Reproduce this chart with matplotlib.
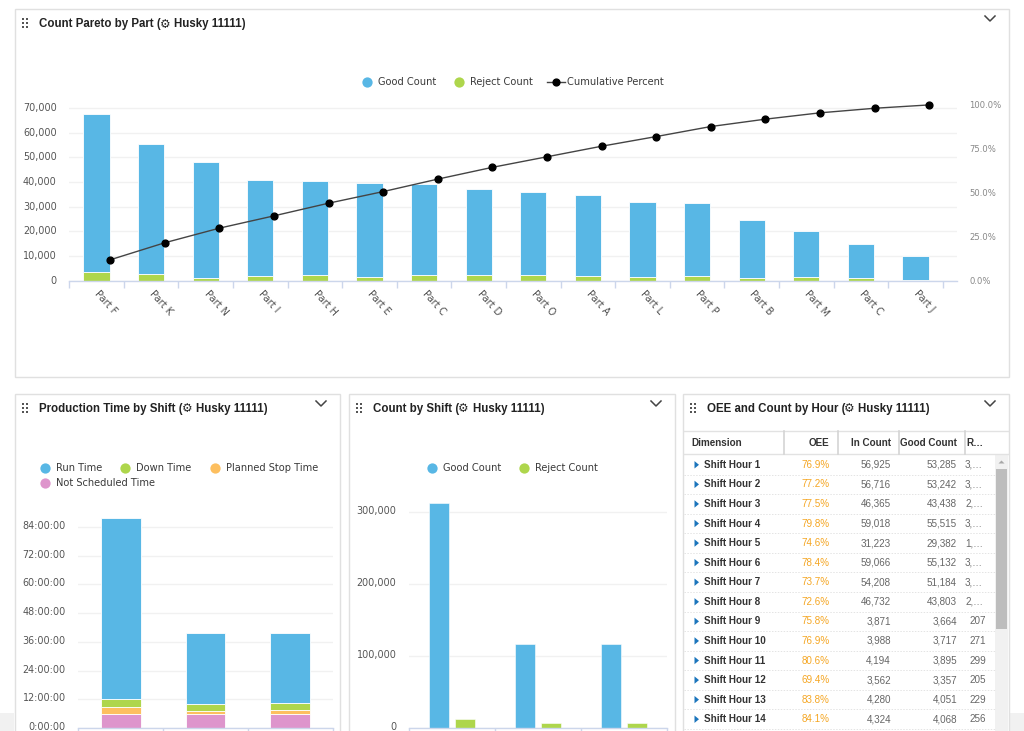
import matplotlib
matplotlib.use("Agg")
import matplotlib.pyplot as plt
from matplotlib.lines import Line2D
from matplotlib.patches import Rectangle, Polygon
from matplotlib.ticker import FuncFormatter
from matplotlib.transforms import ScaledTranslation
import numpy as np

W, H = 1024, 731
BLUE, GREEN, ORANGE, PINK = "#58B7E5", "#AED64C", "#FDBF5F", "#DE95CC"
GRID, AXC = "#f1f1f1", "#ccd6eb"
SANS, ARIAL = "DejaVu Sans", "Liberation Sans"

# ---- data ----
parts = ["Part F", "Part K", "Part N", "Part I", "Part H", "Part E", "Part C", "Part D",
         "Part O", "Part A", "Part L", "Part P", "Part B", "Part M", "Part C", "Part J"]
part_reject = [3500, 2700, 1200, 2000, 2300, 1700, 2300, 2200, 2300, 2000, 1400, 1900, 1000, 1300, 1000, 300]
part_good = [64000, 52800, 46800, 39000, 38200, 38000, 37000, 35100, 33700, 32800, 30600, 29600, 23800, 18700, 14000, 9700]
cum_pct = [11.9, 21.6, 29.9, 36.9, 44.1, 50.7, 57.8, 64.5, 70.5, 76.5, 82.0, 87.7, 91.9, 95.5, 98.1, 100.0]

shift_notsched = [5.85, 5.85, 5.85]
shift_planned = [2.9, 1.2, 1.6]
shift_down = [3.3, 2.9, 2.9]
shift_run = [75.7, 29.8, 29.4]

shift_good = [312900, 116800, 116800]
shift_reject = [12100, 6500, 6500]

hours = [f"Shift Hour {i}" for i in range(1, 15)]
oee = ["76.9%", "77.2%", "77.5%", "79.8%", "74.6%", "78.4%", "73.7%", "72.6%", "75.8%", "76.9%", "80.6%", "69.4%", "83.8%", "84.1%"]
in_count = ["56,925", "56,716", "46,365", "59,018", "31,223", "59,066", "54,208", "46,732", "3,871", "3,988", "4,194", "3,562", "4,280", "4,324"]
good_count = ["53,285", "53,242", "43,438", "55,515", "29,382", "55,132", "51,184", "43,803", "3,664", "3,717", "3,895", "3,357", "4,051", "4,068"]
rej_count = ["3,…", "3,…", "2,…", "3,…", "1,…", "3,…", "3,…", "2,…", "207", "271", "299", "205", "229", "256"]
headers = ["Dimension", "OEE", "In Count", "Good Count", "R…"]

fig = plt.figure(figsize=(W / 100, H / 100), dpi=100, facecolor="white")
plt.rcParams["font.family"] = SANS


def px_axes(l, t, r, b, zorder=1):
    a = fig.add_axes([l / W, 1 - b / H, (r - l) / W, (b - t) / H], zorder=zorder)
    a.patch.set_alpha(0)
    return a


def style(a, color="#555555", size=6.9, pad=9):
    for s in ("top", "left", "right"):
        a.spines[s].set_visible(False)
    a.spines["bottom"].set_color(AXC)
    a.spines["bottom"].set_linewidth(1)
    a.set_axisbelow(True)
    a.grid(axis="y", color=GRID, lw=1)
    a.tick_params(axis="y", length=0, labelsize=size, labelcolor=color, pad=pad)


def edges(a, n):
    a.set_xticks(np.arange(n + 1) - 0.5, minor=True)
    a.tick_params(axis="x", which="minor", length=5, width=1, color=AXC)
    a.tick_params(axis="x", which="major", length=0)


def raise_labels(a, px):
    off = ScaledTranslation(0, px / 100, fig.dpi_scale_trans)
    for lab in a.get_yticklabels():
        lab.set_transform(lab.get_transform() + off)


def legend(handles, labels, x, y):
    fig.legend(handles, labels, loc="center left", bbox_to_anchor=(x / W, 1 - y / H),
               bbox_transform=fig.transFigure, frameon=False, ncols=len(handles), borderpad=0,
               borderaxespad=0, handlelength=1.83, handletextpad=0.2, columnspacing=1.42,
               prop={"family": SANS, "size": 7.1}, labelcolor="#3a3a3a")


def dot(c):
    return Line2D([], [], ls="none", marker="o", ms=7.4, mfc=c, mec="none")


# ---- page chrome (pixel coordinates) ----
bg = fig.add_axes([0, 0, 1, 1], zorder=0)
bg.set_xlim(0, W)
bg.set_ylim(H, 0)
bg.axis("off")
bg.add_patch(Rectangle((0, 713), 14, 18, fc="#f1f1f1", ec="none"))
bg.add_patch(Rectangle((1010, 713), 14, 18, fc="#f1f1f1", ec="none"))

panels = [(15, 9, 1009, 377), (15, 394, 340, 760), (349, 394, 675, 760), (683, 394, 1009, 760)]
for l, t, r, b in panels:
    bg.add_patch(Rectangle((l, t), r - l, b - t, fc="white", ec="#e0e0e0", lw=1))
    for dx in (8, 12):
        for dy in (10, 14, 18):
            bg.add_patch(Rectangle((l + dx - 0.9, t + dy - 0.9), 1.8, 1.8, fc="#555555", ec="none"))
    bg.plot([r - 24, r - 19, r - 14], [t + 7, t + 12, t + 7], color="#444444", lw=1.1)

titles = [("Count Pareto by Part (", 39, 24, 165, 174),
          ("Production Time by Shift (", 39, 409, 187, 196),
          ("Count by Shift (", 373, 409, 463, 473),
          ("OEE and Count by Hour (", 707, 409, 849, 858)]
for txt, x, y, gx, hx in titles:
    bg.text(x, y, txt, family=ARIAL, weight="bold", size=8.3, color="#222222", va="center")
    bg.text(gx, y, "\u2699", family=SANS, weight="bold", size=8.6, color="#222222", va="center", ha="center")
    bg.text(hx, y, "Husky 11111)", family=ARIAL, weight="bold", size=8.3, color="#222222", va="center")

# ---- Pareto ----
ax = px_axes(69.3, 100, 957, 280.7)
style(ax)
x = np.arange(len(parts))
ax.bar(x, part_reject, 0.48, color=GREEN, ec="white", lw=0.6)
ax.bar(x, part_good, 0.48, bottom=part_reject, color=BLUE, ec="white", lw=0.6)
ax.set_xlim(-0.5, 15.76)
ax.set_ylim(0, 73240)
ax.set_yticks(range(0, 70001, 10000))
ax.yaxis.set_major_formatter(FuncFormatter(lambda v, _: f"{int(v):,}"))
ax.set_xticks(x, parts, rotation=-48, rotation_mode="anchor", ha="left", va="center",
              fontsize=7.0, color="#505050")
ax.tick_params(axis="x", pad=8)
edges(ax, len(parts))
raise_labels(ax, 1)

ax2 = ax.twinx()
ax2.patch.set_alpha(0)
for s in ax2.spines.values():
    s.set_visible(False)
ax2.plot(x + 0.25, cum_pct, color="#444444", lw=1, marker="o", ms=4.9, mfc="black", mec="black", clip_on=False)
ax2.set_ylim(0, 102.8)
ax2.set_yticks([0, 25, 50, 75, 100])
ax2.yaxis.set_major_formatter(FuncFormatter(lambda v, _: f"{v:.1f}%"))
ax2.tick_params(axis="y", length=0, labelsize=6.1, labelcolor="#888888", pad=9)

legend([dot(BLUE), dot(GREEN),
        Line2D([], [], color="#444444", lw=1, marker="o", ms=4.9, mfc="black", mec="black")],
       ["Good Count", "Reject Count", "Cumulative Percent"], 358, 82)

# ---- Production time ----
ax3 = px_axes(78.3, 505, 332.7, 728)
style(ax3)
xs = np.arange(3)
b0 = np.array(shift_notsched)
b1 = b0 + shift_planned
b2 = b1 + shift_down
ax3.bar(xs, shift_notsched, 0.47, color=PINK, ec="white", lw=0.6)
ax3.bar(xs, shift_planned, 0.47, bottom=b0, color=ORANGE, ec="white", lw=0.6)
ax3.bar(xs, shift_down, 0.47, bottom=b1, color=GREEN, ec="white", lw=0.6)
ax3.bar(xs, shift_run, 0.47, bottom=b2, color=BLUE, ec="white", lw=0.6)
ax3.set_xlim(-0.5, 2.5)
ax3.set_ylim(0, 223 / 2.393)
ax3.set_yticks(range(0, 85, 12))
ax3.yaxis.set_major_formatter(FuncFormatter(lambda v, _: f"{int(v)}:00:00"))
ax3.set_xticks(xs, [])
edges(ax3, 3)
raise_labels(ax3, 2)
legend([dot(BLUE), dot(GREEN), dot(ORANGE)], ["Run Time", "Down Time", "Planned Stop Time"], 36, 468)
legend([dot(PINK)], ["Not Scheduled Time"], 36, 483)

# ---- Count by shift ----
ax4 = px_axes(409, 495, 667, 728)
style(ax4)
ax4.bar(xs - 0.148, shift_good, 0.237, color=BLUE, ec="white", lw=0.4)
ax4.bar(xs + 0.148, shift_reject, 0.237, color=GREEN, ec="white", lw=0.4)
ax4.set_xlim(-0.5, 2.5)
ax4.set_ylim(0, 233 / 71.9 * 100000)
ax4.set_yticks(range(0, 300001, 100000))
ax4.yaxis.set_major_formatter(FuncFormatter(lambda v, _: f"{int(v):,}"))
ax4.set_xticks(xs, [])
edges(ax4, 3)
raise_labels(ax4, 2)
legend([dot(BLUE), dot(GREEN)], ["Good Count", "Reject Count"], 422.7, 468)

# ---- Table ----
bg.plot([684, 1008], [431, 431], color="#e2e2e2", lw=1)
bg.plot([684, 1008], [454, 454], color="#e2e2e2", lw=1)
for sx in (784, 838, 899, 965):
    bg.plot([sx, sx], [431, 454], color="#d4d4d4", lw=1.2)
hx = [(691, "left"), (829, "right"), (891, "right"), (957, "right"), (966, "left")]
for h, (tx, ha) in zip(headers, hx):
    bg.text(tx, 443.5, h, family=ARIAL, weight="bold", size=7.1, color="#333333", ha=ha, va="center")

bg.add_patch(Rectangle((995, 454), 13, 280, fc="#f1f1f1", ec="none"))
bg.add_patch(Rectangle((996, 469), 11, 160, fc="#bdbdbd", ec="none"))
bg.add_patch(Polygon([(998.5, 463.5), (1001.5, 460.5), (1004.5, 463.5)], fc="#a8a8a8", ec="none"))

for i, (h, o, ic, gc, rc) in enumerate(zip(hours, oee, in_count, good_count, rej_count)):
    y = 464.8 + i * 19.57
    bg.add_patch(Polygon([(694.5, y - 3.7), (699, y), (694.5, y + 3.7)], fc="#1b75bc", ec="none"))
    bg.text(704, y, h, family=ARIAL, weight="bold", size=7.1, color="#333333", va="center")
    bg.text(829.5, y, o, family=ARIAL, size=7.1, color="#F5A623", ha="right", va="center")
    bg.text(891, y, ic, family=ARIAL, size=7.1, color="#666666", ha="right", va="center")
    bg.text(957, y, gc, family=ARIAL, size=7.1, color="#666666", ha="right", va="center")
    if "…" in rc:
        bg.text(965, y, rc, family=ARIAL, size=7.1, color="#666666", ha="left", va="center")
    else:
        bg.text(986, y, rc, family=ARIAL, size=7.1, color="#666666", ha="right", va="center")
    bg.plot([684, 995], [y + 9.8, y + 9.8], color="#e4e4e4", lw=0.7, ls=(0, (1.5, 1.5)))

fig.savefig("out.png", dpi=100)
